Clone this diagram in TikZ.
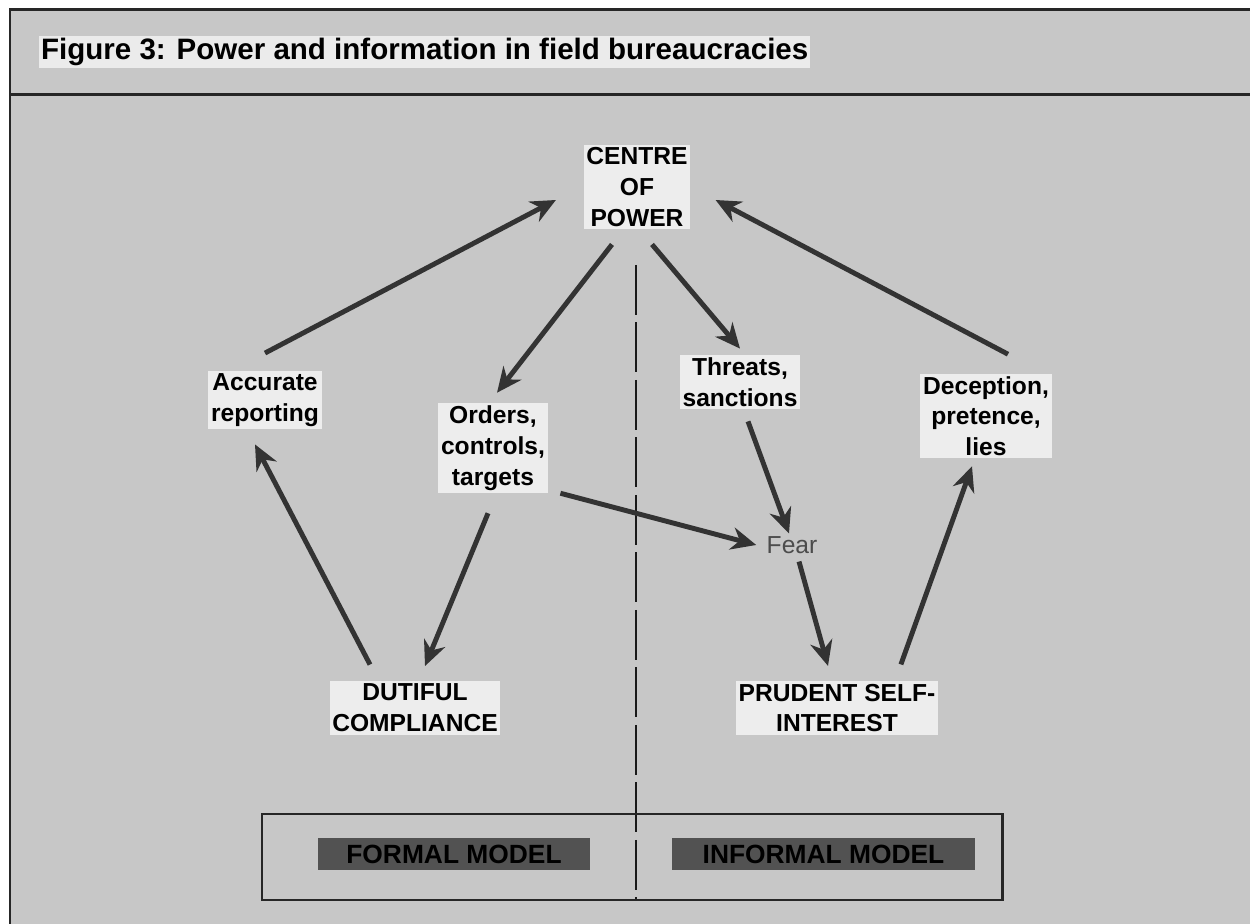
\documentclass[tikz,border=0pt]{standalone}
\usepackage{fontspec}
\setmainfont{Liberation Sans}
\usetikzlibrary{arrows.meta}

\tikzset{
    lbl/.style={font=\bfseries\fontsize{14}{17.5}\selectfont, align=center, fill=black!7, inner sep=1.5pt},
    arr/.style={-{Stealth[length=5mm,width=4.5mm]}, line width=2.8pt, draw=black!80},
    model/.style={font=\bfseries\fontsize{15}{18}\selectfont, fill=black!68, text=black, inner sep=0pt, minimum height=0.64cm}
}

\begin{document}
\begin{tikzpicture}
    \useasboundingbox (0,0) rectangle (25,18.48);
    \fill[white] (0,0) rectangle (25,18.48);
    \fill[black!22] (0.2,0) rectangle (25,18.28);
    \draw[line width=1.7pt, black!85] (0.2,0) -- (0.2,18.28) -- (25,18.28);
    \draw[line width=1.7pt, black!85] (0.2,16.58) -- (25,16.58);
    \node[anchor=west, font=\bfseries\fontsize{16.8}{20}\selectfont, fill=black!8, inner sep=1pt] (title) at (0.78,17.44) {Figure 3: Power and information in field bureaucracies};

    \draw[line width=1.2pt, black!90, dash pattern=on 1cm off 0.15cm] (12.72,13.18) -- (12.72,0.48);

    \node[lbl] (cop) at (12.74,14.74) {CENTRE\\OF\\POWER};
    \node[lbl] (acc) at (5.3,10.48) {Accurate\\reporting};
    \node[lbl] (ord) at (9.86,9.52) {Orders,\\controls,\\targets};
    \node[lbl] (thr) at (14.8,10.84) {Threats,\\sanctions};
    \node[lbl] (dec) at (19.72,10.16) {Deception,\\pretence,\\lies};
    \node[font=\fontsize{14}{17.5}\selectfont, text=black!70, inner sep=1.5pt] (fear) at (15.84,7.58) {Fear};
    \node[lbl] (dut) at (8.3,4.32) {DUTIFUL\\COMPLIANCE};
    \node[lbl] (pru) at (16.74,4.32) {PRUDENT SELF-\\INTEREST};

    \draw[arr] ([yshift=3.5mm]acc.north) to ([xshift=-5.5mm,yshift=-2.6mm]cop.west);
    \draw[arr] ([xshift=-5mm,yshift=-3mm]cop.south) to ([xshift=0.8mm,yshift=2mm]ord.north);
    \draw[arr] ([xshift=3mm,yshift=-3mm]cop.south) to ([yshift=1.2mm]thr.north);
    \draw[arr] ([xshift=4.4mm,yshift=3.8mm]dec.north) to ([xshift=5mm,yshift=-2.6mm]cop.east);
    \draw[arr] ([xshift=-9mm,yshift=3.3mm]dut.north) to ([xshift=-2mm,yshift=-3mm]acc.south);
    \draw[arr] ([xshift=-1mm,yshift=-4mm]ord.south) to ([xshift=2mm,yshift=3mm]dut.north);
    \draw[arr] ([xshift=2.5mm]ord.south east) to ([xshift=-1.5mm]fear.west);
    \draw[arr] ([xshift=1.6mm,yshift=-2.4mm]thr.south) to ([xshift=-0.6mm]fear.north);
    \draw[arr] ([xshift=1.4mm,yshift=-1mm]fear.south) to ([xshift=-1.8mm,yshift=3mm]pru.north);
    \draw[arr] ([xshift=-7.5mm,yshift=3.3mm]pru.north east) to ([xshift=-2.8mm,yshift=-1.5mm]dec.south);

    \node[draw=black!85, line width=1.7pt, minimum width=14.8cm, minimum height=1.72cm] (box) at (12.64,1.34) {};
    \node[model, minimum width=5.44cm] (formal) at (9.08,1.4) {FORMAL MODEL};
    \node[model, minimum width=6.06cm] (informal) at (16.47,1.4) {INFORMAL MODEL};
\end{tikzpicture}
\end{document}
